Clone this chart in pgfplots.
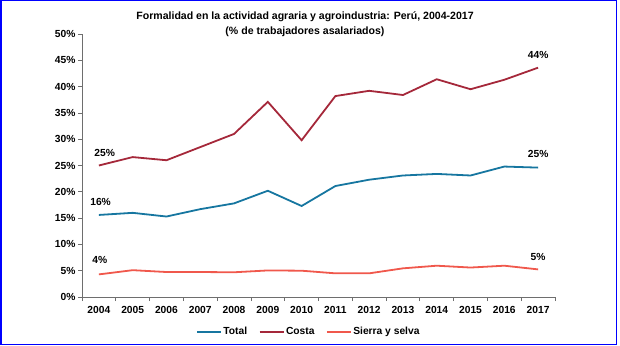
\documentclass[border=0pt]{standalone}
\usepackage{fontspec}
\setmainfont{Liberation Sans}
\usepackage{pgfplots}
\pgfplotsset{compat=1.18}
\definecolor{ctotal}{RGB}{22,118,160}
\definecolor{ccosta}{RGB}{165,40,58}
\definecolor{csierra}{RGB}{240,88,76}
\definecolor{caxis}{RGB}{110,110,110}
\begin{document}
\begin{tikzpicture}[x=1bp,y=1bp]
\useasboundingbox (0,0) rectangle (620,345);
\draw[draw={rgb,255:red,0;green,0;blue,255},line width=1.5bp] (0.75,0.75) rectangle (616.5,344.25);
\node[font=\bfseries\fontsize{10.6}{15}\selectfont,align=center] at (305,320.5) {Formalidad en la actividad agraria y agroindustria: Perú, 2004-2017\\(\% de trabajadores asalariados)};
\begin{axis}[
  at={(82bp,48bp)}, anchor=origin,
  scale only axis, width=473bp, height=263bp,
  xmin=2003.5, xmax=2017.5, ymin=0, ymax=50,
  axis x line*=bottom, axis y line*=left,
  axis line style={caxis, line width=0.8bp},
  xtick={2004,...,2017},
  xticklabels={2004,2005,2006,2007,2008,2009,2010,2011,2012,2013,2014,2015,2016,2017},
  minor xtick={2003.5,2004.5,...,2017.5},
  major x tick style={draw=none},
  minor tick length=4bp,
  minor x tick style={caxis, line width=0.8bp},
  ytick={0,5,...,50},
  yticklabels={0\%,5\%,10\%,15\%,20\%,25\%,30\%,35\%,40\%,45\%,50\%},
  major tick length=4bp,
  y tick style={caxis, line width=0.8bp},
  tick align=outside,
  tick label style={font=\bfseries\fontsize{10.3}{12}\selectfont},
  xticklabel style={yshift=-1.5bp},
  yticklabel style={xshift=1bp},
  legend columns=3,
  legend style={draw=none, at={(0.479,-0.132)}, anchor=center, font=\bfseries\fontsize{10.3}{12}\selectfont, /tikz/every even column/.append style={column sep=10bp}, nodes={inner xsep=1.5bp}},
  legend image code/.code={\draw[#1] (0bp,0bp) -- (24bp,0bp);},
  clip=false,
]
\addplot[ctotal, line width=1.8bp] coordinates {
(2004,15.6) (2005,16.0) (2006,15.3) (2007,16.7) (2008,17.8) (2009,20.2) (2010,17.3)
(2011,21.1) (2012,22.3) (2013,23.1) (2014,23.4) (2015,23.1) (2016,24.8) (2017,24.6)};
\addlegendentry{Total}
\addplot[ccosta, line width=1.8bp] coordinates {
(2004,25.0) (2005,26.6) (2006,26.0) (2007,28.5) (2008,31.0) (2009,37.1) (2010,29.8)
(2011,38.2) (2012,39.2) (2013,38.4) (2014,41.4) (2015,39.5) (2016,41.3) (2017,43.6)};
\addlegendentry{Costa}
\addplot[csierra, line width=1.8bp] coordinates {
(2004,4.3) (2005,5.1) (2006,4.75) (2007,4.75) (2008,4.7) (2009,5.05) (2010,5.0)
(2011,4.5) (2012,4.5) (2013,5.45) (2014,5.95) (2015,5.6) (2016,5.95) (2017,5.25)};
\addlegendentry{Sierra y selva}
\begin{scope}[every node/.style={font=\bfseries\fontsize{10.3}{12}\selectfont}]
\node at (axis cs:2004.17,27.4) {25\%};
\node at (axis cs:2004.05,18.1) {16\%};
\node at (axis cs:2004.03,7.0) {4\%};
\node at (axis cs:2017.0,46.1) {44\%};
\node at (axis cs:2017.0,27.1) {25\%};
\node at (axis cs:2017.0,7.7) {5\%};
\end{scope}
\end{axis}
\end{tikzpicture}
\end{document}
